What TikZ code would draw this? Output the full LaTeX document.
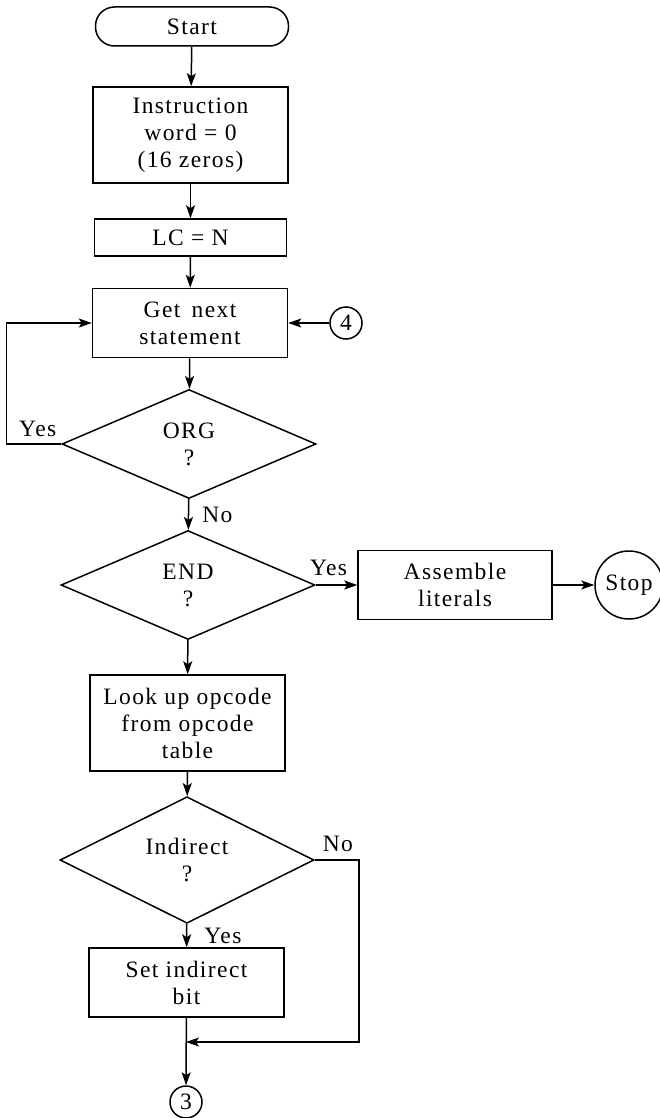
\documentclass[tikz,border=0pt]{standalone}
\usepackage{fontspec}
\setmainfont{Liberation Serif}[LetterSpace=6.0]
\usepackage{tikz}
\usetikzlibrary{arrows.meta,shapes.geometric,positioning}
\tikzset{
  flowfont/.style={font=\fontsize{23.5}{27}\selectfont},
  termnode/.style={draw, flowfont, rounded corners=19pt, minimum width=193pt, minimum height=39pt, inner sep=0pt},
  procbox/.style={draw, flowfont, align=center, minimum width=195pt, inner sep=0pt},
  decision/.style={draw, diamond, flowfont, align=center, minimum width=254pt, minimum height=109pt, inner sep=0pt},
  connector/.style={draw, circle, flowfont, minimum size=32pt, inner sep=0pt},
  flowarrow/.style={-{Stealth[length=13pt,width=9pt,inset=3pt]}},
  lbl/.style={flowfont, inner sep=3pt}
}

\begin{document}
\begin{tikzpicture}[x=1pt, y=-1pt, line width=1.5pt]
    \useasboundingbox (0,0) rectangle (660,1118);
    % boxes down the main line
    \node[termnode] (start) at (192,26.5) {Start};
    \node[procbox, minimum height=96pt] (init) at (190.5,135) {Instruction\\word = 0\\(16 zeros)};
    \node[procbox, minimum width=192pt, minimum height=37pt] (lc) at (190.5,237.5) {LC = N};
    \node[procbox, minimum height=69pt] (next) at (190,323) {Get\, next\\statement};
    \node[connector] (c4) at (346,323) {4};
    \node[decision] (org) at (189,444) {ORG\\?};
    \node[decision] (end) at (188,585) {END\\?};
    \node[procbox, minimum width=194pt, minimum height=69pt] (lit) at (455,585) {Assemble\\literals};
    \node[draw, circle, flowfont, minimum size=68pt, inner sep=0pt] (stop) at (629,585) {Stop};
    \node[procbox, minimum height=96pt] (look) at (187.5,723) {Look up opcode\\from opcode\\table};
    \node[decision] (ind) at (187,860) {Indirect\\?};
    \node[procbox, minimum height=69pt] (set) at (186.5,982.5) {Set indirect\\bit};
    \node[connector] (c3) at (186,1102) {3};
    \coordinate (join) at (186,1042);

    \draw[flowarrow] (start) -- (init);
    \draw[flowarrow] (init) -- (lc);
    \draw[flowarrow] (lc) -- (next);
    \draw[flowarrow] (c4) -- (next);
    \draw[flowarrow] (next) -- (org);
    \draw[flowarrow] (org.west) -- node[lbl, above=4pt, xshift=4pt] (orgyes) {Yes} ++(-55,0) |- (next.west);
    \draw[flowarrow] (org) -- node[lbl, right=10pt] (orgno) {No} (end);
    \draw[flowarrow] (end) -- node[lbl, above=6pt, xshift=-8pt] (endyes) {Yes} (lit);
    \draw[flowarrow] (lit) -- (stop);
    \draw[flowarrow] (end) -- (look);
    \draw[flowarrow] (look) -- (ind);
    \draw[flowarrow] (ind) -- node[lbl, right=14pt] (indyes) {Yes} (set);
    \draw[flowarrow] (ind.east) -- node[lbl, pos=1, above left=5pt and 2pt] (indno) {No} ++(44,0) |- (join);
    \draw[flowarrow] (set) -- (c3);
\end{tikzpicture}
\end{document}
